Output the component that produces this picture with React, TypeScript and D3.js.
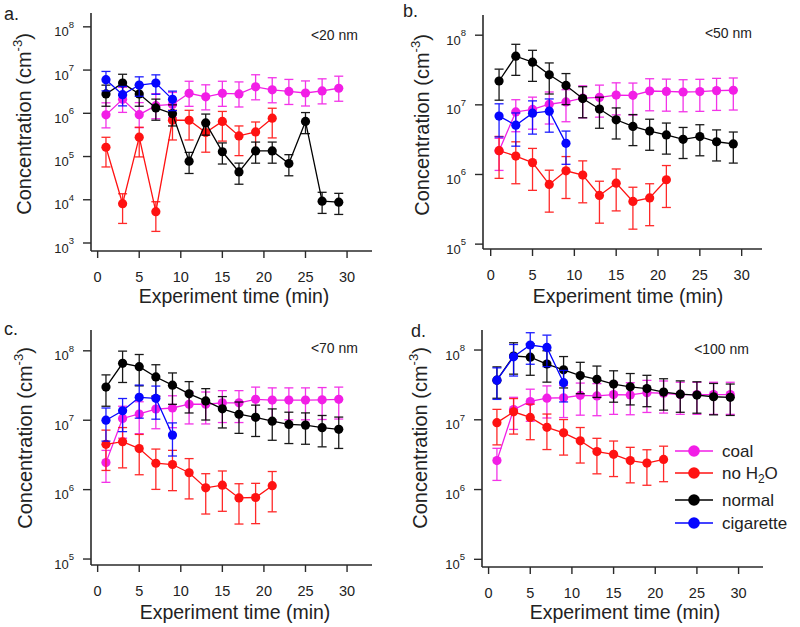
import React from 'react';
import * as d3 from 'd3';

// ---- data ----
const times = [1, 3, 5, 7, 9, 11, 13, 15, 17, 19, 21, 23, 25, 27, 29];
const xTicks = [0, 5, 10, 15, 20, 25, 30];
const seriesNames = ['coal', 'no H2O', 'normal', 'cigarette'];

// panel a: <20 nm
const coalA = [0.92e6, 2.1e6, 0.93e6, 1.5e6, 1.6e6, 2.9e6, 2.4e6, 2.9e6, 2.8e6, 4.1e6, 3.5e6, 3.2e6, 2.95e6, 3.3e6, 3.8e6];
const noH2OA = [1.64e5, 8.1e3, 2.8e5, 5.3e3, 6.9e5, 6.9e5, 3.6e5, 6.5e5, 3.0e5, 3.7e5, 7.7e5];
const normalA = [2.8e6, 5.0e6, 2.8e6, 1.33e6, 0.98e6, 7.8e4, 6.0e5, 1.29e5, 4.4e4, 1.35e5, 1.35e5, 6.9e4, 6.5e5, 9.3e3, 8.8e3];
const cigaretteA = [6.0e6, 2.7e6, 4.5e6, 5.0e6, 2.1e6];
// relative error [lower, upper] per series
const errA = [[0.5, 0.9], [0.65, 0.7], [0.48, 0.6], [0.45, 0.55]];

// panel b: <50 nm
const coalB = [2.2e6, 7.9e6, 8.6e6, 1.02e7, 1.1e7, 1.25e7, 1.28e7, 1.38e7, 1.37e7, 1.58e7, 1.56e7, 1.53e7, 1.55e7, 1.6e7, 1.62e7];
const noH2OB = [2.2e6, 1.84e6, 1.48e6, 7.2e5, 1.13e6, 9.8e5, 5.0e5, 7.5e5, 4.1e5, 4.6e5, 8.4e5];
const normalB = [2.2e7, 5.0e7, 4.1e7, 2.7e7, 1.9e7, 1.23e7, 8.7e6, 6.1e6, 4.9e6, 4.2e6, 3.7e6, 3.2e6, 3.5e6, 2.95e6, 2.75e6];
const cigaretteB = [6.9e6, 5.1e6, 7.6e6, 8.1e6, 2.8e6];
const errB = [[0.48, 0.5], [0.6, 0.6], [0.47, 0.48], [0.5, 0.5]];

// panel c: <70 nm
const coalC = [2.45e6, 1.06e7, 1.23e7, 1.45e7, 1.5e7, 1.7e7, 1.7e7, 1.78e7, 1.78e7, 2.0e7, 1.95e7, 1.95e7, 1.95e7, 1.97e7, 2.0e7];
const noH2OC = [4.5e6, 4.9e6, 3.9e6, 2.4e6, 2.3e6, 1.75e6, 1.06e6, 1.16e6, 7.6e5, 7.7e5, 1.14e6];
const normalC = [3.0e7, 6.6e7, 5.9e7, 4.2e7, 3.2e7, 2.4e7, 1.9e7, 1.46e7, 1.22e7, 1.1e7, 9.7e6, 8.7e6, 8.5e6, 7.8e6, 7.4e6];
const cigaretteC = [1.0e7, 1.37e7, 2.14e7, 2.07e7, 6.1e6];
const errC = [[0.48, 0.5], [0.58, 0.6], [0.47, 0.5], [0.5, 0.5]];

// panel d: <100 nm
const coalD = [2.6e6, 1.4e7, 1.83e7, 2.04e7, 2.07e7, 2.24e7, 2.2e7, 2.3e7, 2.27e7, 2.45e7, 2.4e7, 2.3e7, 2.3e7, 2.3e7, 2.3e7];
const noH2OD = [9.1e6, 1.3e7, 1.08e7, 7.8e6, 6.5e6, 5.0e6, 3.5e6, 3.2e6, 2.6e6, 2.4e6, 2.7e6];
const normalD = [3.7e7, 8.2e7, 7.9e7, 6.3e7, 5.2e7, 4.3e7, 3.8e7, 3.25e7, 2.97e7, 2.8e7, 2.5e7, 2.33e7, 2.26e7, 2.14e7, 2.1e7];
const cigaretteD = [3.7e7, 8.0e7, 1.18e8, 1.09e8, 3.4e7];
const errD = [[0.48, 0.5], [0.52, 0.55], [0.45, 0.55], [0.47, 0.5]];

const panelLetters = ['a.', 'b.', 'c.', 'd.'];
const sizeLabels = ['<20 nm', '<50 nm', '<70 nm', '<100 nm'];

// ---- styles / layout ----
const colors = ['#f21ee6', '#ff1212', '#000000', '#0505ff'];
const FONT = '"Liberation Sans", Arial, Helvetica, sans-serif';
const AXIS = '#2a2a2a';

const layouts = [
  { left: 91, right: 372, top: 13, bottom: 251, xMin: -0.8, xMax: 33.0, yLo: 2.815, yHi: 8.32, yTicks: [3, 4, 5, 6, 7, 8],
    letter: [4, 20], size: [358, 40], yTitle: [31, 124], xTitle: [234, 303] },
  { left: 483, right: 762, top: 15, bottom: 249, xMin: -0.92, xMax: 32.43, yLo: 4.93, yHi: 8.29, yTicks: [5, 6, 7, 8],
    letter: [403, 17], size: [752, 38], yTitle: [429, 125], xTitle: [628, 303] },
  { left: 91, right: 372, top: 330, bottom: 565, xMin: -0.8, xMax: 33.0, yLo: 4.914, yHi: 8.30, yTicks: [5, 6, 7, 8],
    letter: [4, 335], size: [358, 353], yTitle: [32, 438], xTitle: [235, 619] },
  { left: 482, right: 763, top: 330, bottom: 567, xMin: -0.79, xMax: 32.93, yLo: 4.89, yHi: 8.287, yTicks: [5, 6, 7, 8],
    letter: [411, 337], size: [749, 354], yTitle: [427, 438], xTitle: [625, 619] },
];

const panelData = [
  { series: [coalA, noH2OA, normalA, cigaretteA], err: errA },
  { series: [coalB, noH2OB, normalB, cigaretteB], err: errB },
  { series: [coalC, noH2OC, normalC, cigaretteC], err: errC },
  { series: [coalD, noH2OD, normalD, cigaretteD], err: errD },
];

const legendRows = [451, 473, 500, 523];

function Panel({ idx }: { idx: number }) {
  const L = layouts[idx];
  const D = panelData[idx];
  const x = d3.scaleLinear().domain([L.xMin, L.xMax]).range([L.left, L.right]);
  const y = d3.scaleLog().domain([Math.pow(10, L.yLo), Math.pow(10, L.yHi)]).range([L.bottom, L.top]);

  return (
    <g>
      {/* series */}
      {D.series.map((vals, s) => {
        const line = d3
          .line<number>()
          .x((_, i) => x(times[i]))
          .y((d) => y(d));
        const [lo, hi] = D.err[s];
        return (
          <g key={s}>
            <path d={line(vals) || ''} fill="none" stroke={colors[s]} strokeWidth={1.3} />
            {vals.map((v, i) => {
              const cx = x(times[i]);
              const yTop = y(v * (1 + hi));
              const yBot = y(v * (1 - lo));
              return (
                <g key={i} stroke={colors[s]} strokeWidth={1.3} opacity={0.9}>
                  <line x1={cx} x2={cx} y1={yTop} y2={yBot} />
                  <line x1={cx - 4.5} x2={cx + 4.5} y1={yTop} y2={yTop} />
                  <line x1={cx - 4.5} x2={cx + 4.5} y1={yBot} y2={yBot} />
                </g>
              );
            })}
            {vals.map((v, i) => (
              <circle key={'m' + i} cx={x(times[i])} cy={y(v)} r={4.6} fill={colors[s]} />
            ))}
          </g>
        );
      })}

      {/* axes */}
      <line x1={L.left} x2={L.left} y1={L.top} y2={L.bottom} stroke={AXIS} strokeWidth={1.6} />
      <line x1={L.left} x2={L.right} y1={L.bottom} y2={L.bottom} stroke={AXIS} strokeWidth={1.6} />
      {L.yTicks.map((e) => {
        const ty = y(Math.pow(10, e));
        return (
          <g key={'yt' + e}>
            <line x1={L.left - 8} x2={L.left} y1={ty} y2={ty} stroke={AXIS} strokeWidth={1.4} />
            <text x={L.left - 17} y={ty + 9.5} textAnchor="end" fontSize={13} fill="#222" fontFamily={FONT}>
              10
              <tspan dy={-8.5} fontSize={9.5}>{e}</tspan>
            </text>
          </g>
        );
      })}
      {xTicks.map((t) => (
        <g key={'xt' + t}>
          <line x1={x(t)} x2={x(t)} y1={L.bottom} y2={L.bottom + 7} stroke={AXIS} strokeWidth={1.4} />
          <text x={x(t)} y={L.bottom + 31} textAnchor="middle" fontSize={14.5} fill="#222" fontFamily={FONT}>
            {t}
          </text>
        </g>
      ))}

      {/* titles */}
      <text x={L.xTitle[0]} y={L.xTitle[1]} textAnchor="middle" fontSize={19.5} fill="#222" fontFamily={FONT}>
        Experiment time (min)
      </text>
      <text
        transform={`translate(${L.yTitle[0]},${L.yTitle[1]}) rotate(-90)`}
        textAnchor="middle"
        fontSize={20}
        fill="#222"
        fontFamily={FONT}
      >
        Concentration (cm
        <tspan dy={-9} fontSize={13}>-3</tspan>
        <tspan dy={9}>)</tspan>
      </text>
      <text x={L.letter[0]} y={L.letter[1]} fontSize={18} fill="#222" fontFamily={FONT}>
        {panelLetters[idx]}
      </text>
      <text x={L.size[0]} y={L.size[1]} textAnchor="end" fontSize={14} fill="#222" fontFamily={FONT}>
        {sizeLabels[idx]}
      </text>
    </g>
  );
}

function Legend() {
  return (
    <g fontFamily={FONT}>
      {seriesNames.map((name, i) => {
        const ly = legendRows[i];
        return (
          <g key={name}>
            <line x1={675} x2={713} y1={ly} y2={ly} stroke={colors[i]} strokeWidth={1.3} />
            <circle cx={694} cy={ly} r={5.8} fill={colors[i]} />
            <text x={722} y={ly} dy="0.36em" fontSize={17} fill="#222">
              {name === 'no H2O' ? (
                <>
                  no H<tspan dy={4} fontSize={12}>2</tspan>
                  <tspan dy={-4}>O</tspan>
                </>
              ) : (
                name
              )}
            </text>
          </g>
        );
      })}
    </g>
  );
}

export default function App() {
  return (
    <svg
      width={800}
      height={627}
      viewBox="0 0 800 627"
      style={{ position: 'absolute', left: 0, top: 0, background: '#fff' }}
    >
      <rect x={0} y={0} width={800} height={627} fill="#fff" />
      {[0, 1, 2, 3].map((i) => (
        <Panel key={i} idx={i} />
      ))}
      <Legend />
    </svg>
  );
}
